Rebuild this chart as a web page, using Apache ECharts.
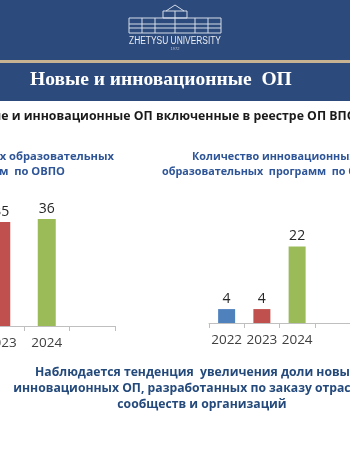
<!DOCTYPE html>
<html>
<head>
<meta charset="utf-8">
<script src="https://cdn.jsdelivr.net/npm/echarts@6/dist/echarts.min.js"></script>
<style>
    html, body { margin: 0; padding: 0; background: #ffffff; overflow: hidden; }
    #wrap { width: 350px; height: 450px; overflow: hidden; position: relative; }
    #chart { position: absolute; top: 0; left: -67px; width: 417px; height: 450px; }
</style>
</head>
<body>
<div id="wrap"><div id="chart"></div></div>
<script>
// data
const years = ["2022", "2023", "2024", ""];
const newPrograms = [null, 35, 36, null];
const innovPrograms = [4, 4, 22, null];
const barColors = ["#4F81BD", "#C0504D", "#9BBB59", "#8064A2"];

// the slide is cropped on the left: the canvas is wider and shifted by OX
const OX = 67;

const headerBlue = "#2C4A7B";
const titleBlue = "#2E5597";
const textBlue = "#244A7C";
const axisGray = "#BFBFBF";
const labelColor = "#404040";

const chart = echarts.init(document.getElementById("chart"), null, { renderer: "canvas" });

function colored(values) {
    return values.map((v, i) => ({ value: v, itemStyle: { color: barColors[i] } }));
}

function xAxisFor(gridIndex) {
    return {
        type: "category",
        gridIndex: gridIndex,
        data: years,
        axisLine: { lineStyle: { color: axisGray, width: 1 } },
        axisTick: { show: true, length: 5, lineStyle: { color: axisGray } },
        axisLabel: { interval: 0, color: labelColor, fontSize: 13.5, margin: 10, fontFamily: "Open Sans" }
    };
}

function yAxisFor(gridIndex, max) {
    return { type: "value", gridIndex: gridIndex, min: 0, max: max, show: false };
}

const barLabel = {
    show: true,
    position: "top",
    distance: 3,
    color: "#262626",
    fontSize: 14,
    fontFamily: "Open Sans"
};

function txt(x, y, text, font, fill, align) {
    return {
        type: "text", x: x + OX, y: y, z: 10,
        style: { text: text, fill: fill, font: font, align: align, verticalAlign: "middle" }
    };
}

// simple building drawing for the logo
const bldStroke = "#D5DCE9";
const building = [
    { type: "rect", shape: { x: 129, y: 18, width: 92, height: 15 } },
    { type: "rect", shape: { x: 163, y: 11, width: 24, height: 7 } },
    { type: "polyline", shape: { points: [[166, 11], [175, 5], [184, 11]] } },
    { type: "line", shape: { x1: 129, y1: 24, x2: 221, y2: 24 } },
    { type: "line", shape: { x1: 129, y1: 28, x2: 221, y2: 28 } },
    { type: "line", shape: { x1: 142, y1: 18, x2: 142, y2: 33 } },
    { type: "line", shape: { x1: 155, y1: 18, x2: 155, y2: 33 } },
    { type: "line", shape: { x1: 195, y1: 18, x2: 195, y2: 33 } },
    { type: "line", shape: { x1: 208, y1: 18, x2: 208, y2: 33 } },
    { type: "line", shape: { x1: 175, y1: 11, x2: 175, y2: 33 } }
].map(el => Object.assign(el, { x: OX, style: { fill: null, stroke: bldStroke, lineWidth: 1 }, z: 10 }));

const option = {
    backgroundColor: "#ffffff",
    animation: false,
    grid: [
        { left: 0, top: 207, width: 182, height: 119 },
        { left: 209 + OX, top: 236, width: 168, height: 87 }
    ],
    xAxis: [xAxisFor(0), xAxisFor(1)],
    yAxis: [yAxisFor(0, 40), yAxisFor(1, 25)],
    series: [
        {
            type: "bar", xAxisIndex: 0, yAxisIndex: 0,
            barWidth: 18, data: colored(newPrograms), label: barLabel
        },
        {
            type: "bar", xAxisIndex: 1, yAxisIndex: 1,
            barWidth: 17, data: colored(innovPrograms), label: barLabel
        }
    ],
    graphic: [
        { type: "rect", shape: { x: 0, y: 0, width: 350 + OX, height: 60 }, style: { fill: headerBlue }, z: 1 },
        { type: "rect", shape: { x: 0, y: 60, width: 350 + OX, height: 3 }, style: { fill: "#C7B392" }, z: 1 },
        { type: "rect", shape: { x: 0, y: 63, width: 350 + OX, height: 38 }, style: { fill: headerBlue }, z: 1 },
        ...building,
        {
            type: "text", x: 175 + OX, y: 41, z: 10, scaleX: 0.84,
            style: { text: "ZHETYSU UNIVERSITY", fill: "#E8ECF3", font: "10px 'Liberation Sans'", align: "center", verticalAlign: "middle" }
        },
        txt(175, 49, "1972", "4px 'Liberation Sans'", "#B8C2D6", "center"),
        txt(30, 80, "Новые и инновационные  ОП", "bold 19.5px 'Liberation Serif'", "#ffffff", "left"),
        txt(-34, 116, "Новые и инновационные ОП включенные в реестре ОП ВПО", "bold 12.3px 'Open Sans'", "#1a1a1a", "left"),
        txt(114, 157, "Количество новых образовательных", "bold 11.2px 'Open Sans'", titleBlue, "right"),
        txt(65, 172, "программ  по ОВПО", "bold 11.2px 'Open Sans'", titleBlue, "right"),
        txt(192, 157, "Количество инновационных", "bold 10.8px 'Open Sans'", titleBlue, "left"),
        txt(162, 172, "образовательных  программ  по ОВПО", "bold 10.8px 'Open Sans'", titleBlue, "left"),
        txt(202, 373, "Наблюдается тенденция  увеличения доли новых и", "bold 12.2px 'Open Sans'", textBlue, "center"),
        txt(202, 389, "инновационных ОП, разработанных по заказу отраслевых", "bold 12.2px 'Open Sans'", textBlue, "center"),
        txt(202, 405, "сообществ и организаций", "bold 12.2px 'Open Sans'", textBlue, "center")
    ]
};

chart.setOption(option);
</script>
</body>
</html>
